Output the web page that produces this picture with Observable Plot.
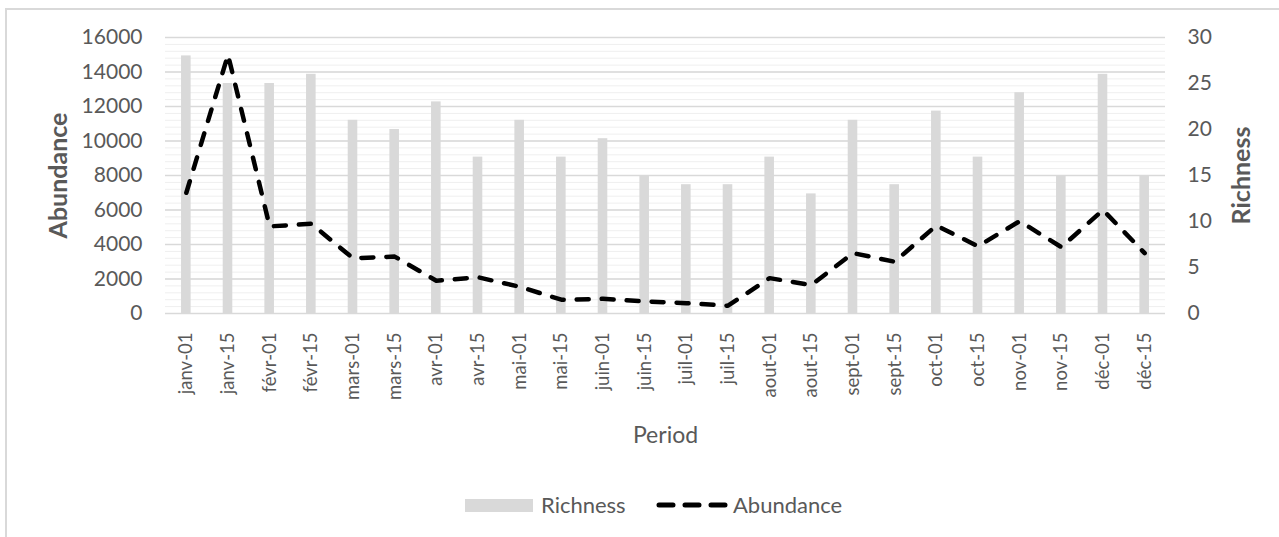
<!DOCTYPE html>
<html>
<head>
<meta charset="utf-8">
<script src="https://cdn.jsdelivr.net/npm/d3@7"></script>
<script src="https://cdn.jsdelivr.net/npm/@observablehq/plot@0.6"></script>
<style>
  html, body { margin: 0; padding: 0; background: #fff; }
  #wrap { position: relative; width: 1279px; height: 537px; overflow: hidden; font-family: Lato, "Open Sans", sans-serif; }
  #frame { position: absolute; left: 5px; top: 8px; width: 1290px; height: 540px; border-left: 2px solid #d9d9d9; border-top: 2px solid #d9d9d9; }
  #chart { position: absolute; left: 0; top: 0; }
  #legend { position: absolute; top: 493px; left: 0; width: 1279px; height: 24px; }
  .lg { position: absolute; top: 0; font-size: 22px; color: #595959; line-height: 24px; }
</style>
</head>
<body>
<div id="wrap">
  <div id="frame"></div>
  <div id="chart"></div>
  <div id="legend">
    <div style="position:absolute;left:465px;top:6px;width:68px;height:13px;background:#d9d9d9"></div>
    <div class="lg" style="left:541px">Richness</div>
    <svg style="position:absolute;left:652px;top:0" width="80" height="24"><line x1="7" y1="12" x2="74" y2="12" stroke="#000" stroke-width="5" stroke-linecap="round" stroke-dasharray="14,12"/></svg>
    <div class="lg" style="left:733px">Abundance</div>
  </div>
</div>
<script>
const periods = ["janv-01","janv-15","févr-01","févr-15","mars-01","mars-15","avr-01","avr-15","mai-01","mai-15","juin-01","juin-15","juil-01","juil-15","aout-01","aout-15","sept-01","sept-15","oct-01","oct-15","nov-01","nov-15","déc-01","déc-15"];
const richness = [28,25,25,26,21,20,23,17,21,17,19,15,14,14,17,13,21,14,22,17,24,15,26,15];
const abundance = [7000,15000,5050,5200,3200,3300,1900,2100,1550,800,850,700,600,450,2050,1650,3500,3000,5100,3900,5350,3850,6000,3500];
const abundanceTicks = [0,2000,4000,6000,8000,10000,12000,14000,16000];
const richnessTicks = [0,5,10,15,20,25,30];
const abundanceMax = 16000, richnessMax = 30;
const k = abundanceMax / richnessMax;

const rows = periods.map((p, i) => ({period: p, richness: richness[i], abundance: abundance[i]}));

const chart = Plot.plot({
  width: 1279,
  height: 465,
  marginLeft: 165,
  marginRight: 114,
  marginTop: 37,
  marginBottom: 152,
  style: {fontFamily: "Lato, 'Open Sans', sans-serif", fontSize: "17px", color: "#595959", background: "transparent", overflow: "visible"},
  x: {type: "band", domain: periods, paddingInner: 0.77, paddingOuter: 0.385, round: false},
  y: {domain: [0, abundanceMax]},
  marks: [
    Plot.gridY({interval: 400, stroke: "#efefef", strokeOpacity: 1, strokeWidth: 1}),
    Plot.gridY(abundanceTicks, {stroke: "#d9d9d9", strokeOpacity: 1, strokeWidth: 1.5}),
    Plot.barY(rows, {x: "period", y: d => d.richness * k, fill: "#d9d9d9"}),
    Plot.line(rows, {x: "period", y: "abundance", stroke: "#000", strokeWidth: 4.5, strokeDasharray: "12,13", strokeLinecap: "round", strokeLinejoin: "round"}),
    Plot.axisY(abundanceTicks, {anchor: "left", tickSize: 0, tickPadding: 23, fontSize: 21, tickFormat: d => String(d), label: null}),
    Plot.axisY(richnessTicks.map(v => v * k), {anchor: "right", tickSize: 0, tickPadding: 22, fontSize: 21, tickFormat: d => String(Math.round(d / k)), label: null}),
    Plot.axisX({tickSize: 0, tickPadding: 19, tickRotate: -90, fontSize: 18.5, label: null}),
    Plot.text(["Abundance"], {frameAnchor: "left", dx: -107, rotate: -90, textAnchor: "middle", lineAnchor: "middle", text: d => d, fontSize: 25, fontWeight: "bold", fill: "#595959"}),
    Plot.text(["Richness"], {frameAnchor: "right", dx: 76, rotate: -90, textAnchor: "middle", lineAnchor: "middle", text: d => d, fontSize: 25, fontWeight: "bold", fill: "#595959"}),
    Plot.text(["Period"], {frameAnchor: "bottom", dy: 122, textAnchor: "middle", lineAnchor: "middle", text: d => d, fontSize: 23, fill: "#595959"})
  ]
});
document.getElementById("chart").appendChild(chart);
</script>
</body>
</html>
